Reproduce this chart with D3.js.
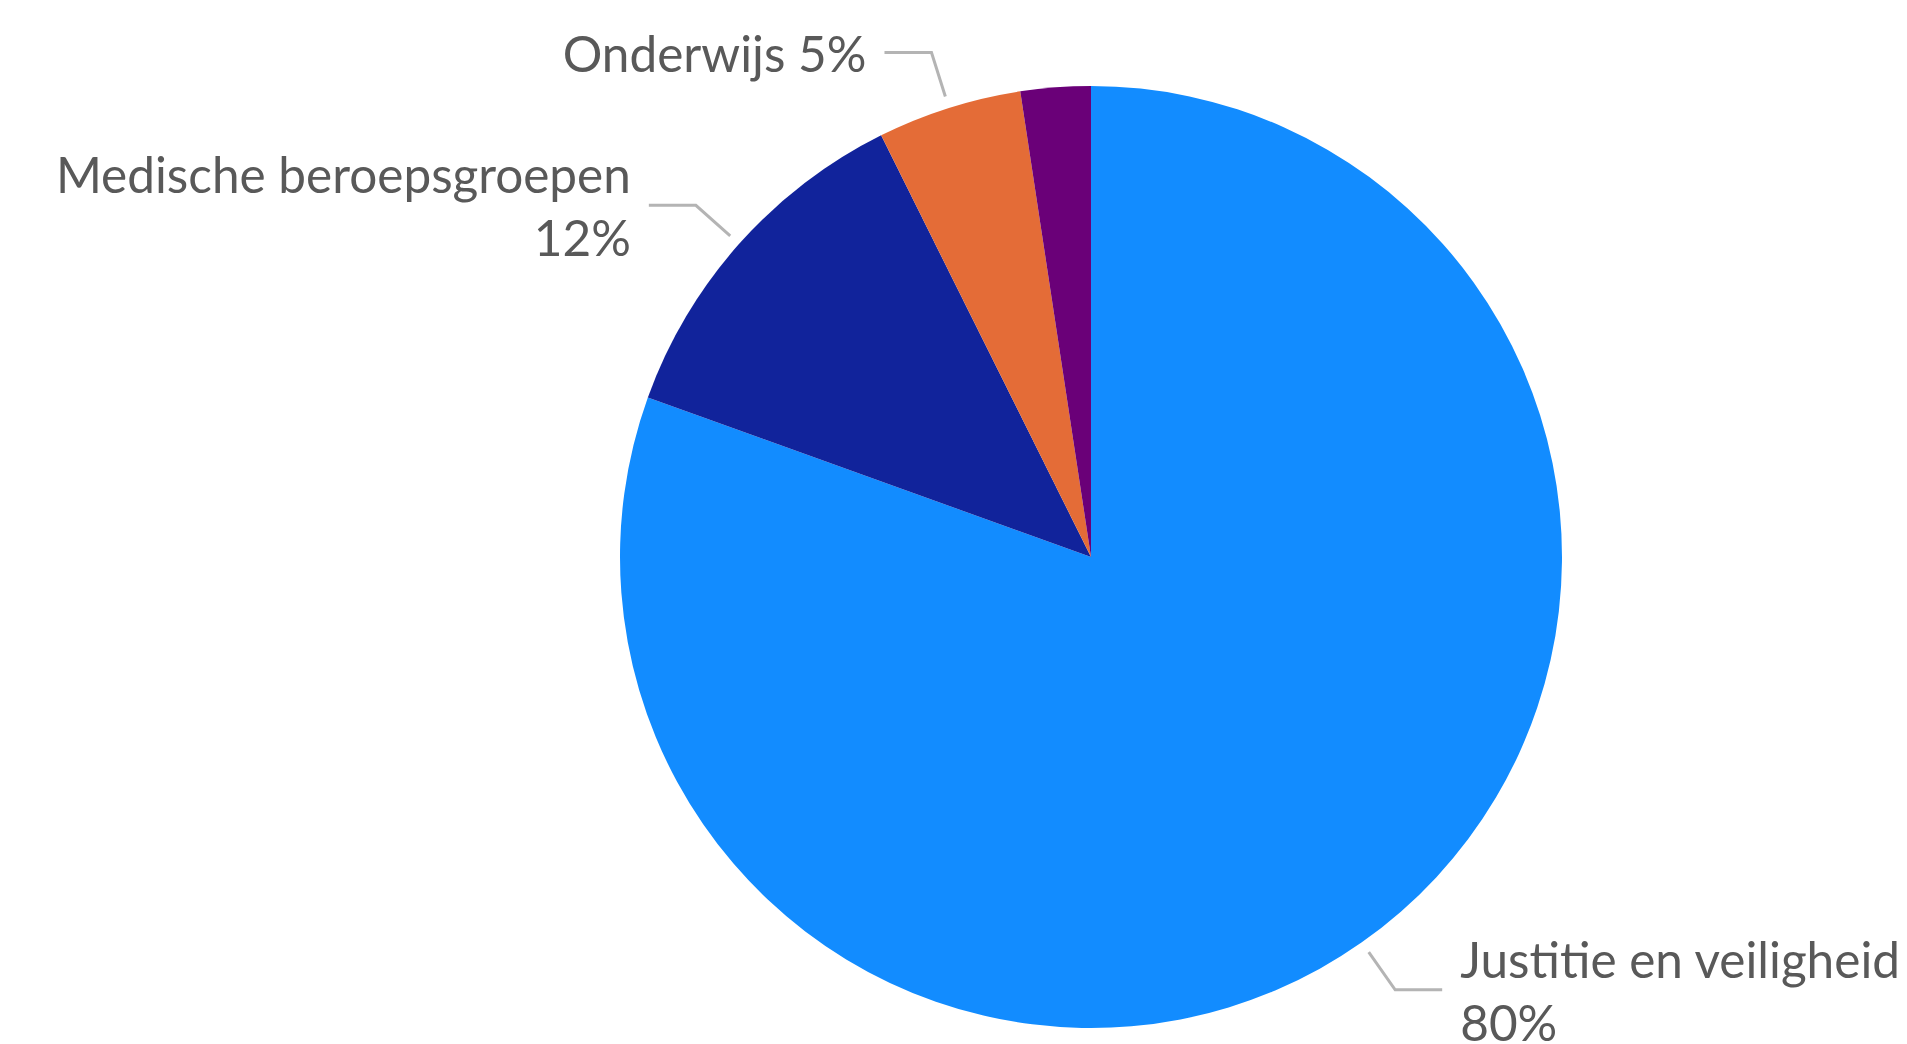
<!DOCTYPE html>
<html><head><meta charset="utf-8">
<script src="https://cdn.jsdelivr.net/npm/d3@7"></script>
<style>html,body{margin:0;padding:0;background:#fff;overflow:hidden}</style>
</head><body><svg id="chart"></svg>
<script>
// ---- data ----
const categories = ["Justitie en veiligheid", "Medische beroepsgroepen", "Onderwijs", "Overig"];
const values = [80.5, 12.15, 4.95, 2.4];
const percentLabels = ["80%", "12%", "5%", ""];
const showLabel = [true, true, true, false];
const singleLineLabel = [false, false, true, false];
const colors = ["#128CFF", "#11239B", "#E46C37", "#6A0078"];

// ---- layout ----
const W = 1907, H = 1044;
const cx = 1091, cy = 557, R = 471;
const leaderStartR = R + 12, leaderElbowR = R + 58;
const leaderHoriz = 47, labelGap = 18;
const fontSize = 49.5, lineH = 63.3, baseOff = 19.5;

const svg = d3.select("#chart").attr("width", W).attr("height", H);
const g = svg.append("g").attr("transform", `translate(${cx},${cy})`);

const data = categories.map((c, i) => ({
  name: c, value: values[i], pct: percentLabels[i], show: showLabel[i],
  single: singleLineLabel[i], color: colors[i]
}));

const pie = d3.pie().sort(null).value(d => d.value);
const arcs = pie(data);
const arc = d3.arc().innerRadius(0).outerRadius(R);
const startArc = d3.arc().innerRadius(leaderStartR).outerRadius(leaderStartR);
const elbowArc = d3.arc().innerRadius(leaderElbowR).outerRadius(leaderElbowR);

g.selectAll("path.slice").data(arcs).join("path")
  .attr("class", "slice")
  .attr("d", arc)
  .attr("fill", d => d.data.color);

const labeled = arcs.filter(d => d.data.show);

labeled.forEach(d => {
  const p0 = startArc.centroid(d);
  const p1 = elbowArc.centroid(d);
  const mid = (d.startAngle + d.endAngle) / 2;
  const side = Math.sin(mid) >= 0 ? 1 : -1;
  const p2 = [p1[0] + side * leaderHoriz, p1[1]];
  g.append("path")
    .attr("d", d3.line()([p0, p1, p2]))
    .attr("fill", "none")
    .attr("stroke", "#B4B4B4")
    .attr("stroke-width", 3);

  const lines = d.data.single ? [d.data.name + " " + d.data.pct] : [d.data.name, d.data.pct];
  const tx = p2[0] + side * labelGap;
  const firstBase = p1[1] - (lines.length - 1) * lineH / 2 + baseOff;
  const text = g.append("text")
    .attr("font-family", "Lato, 'Open Sans', sans-serif")
    .attr("font-size", fontSize)
    .attr("fill", "#595959")
    .attr("text-anchor", side > 0 ? "start" : "end");
  lines.forEach((ln, i) => {
    text.append("tspan").attr("x", tx).attr("y", firstBase + i * lineH).text(ln);
  });
});
</script>
</body></html>
